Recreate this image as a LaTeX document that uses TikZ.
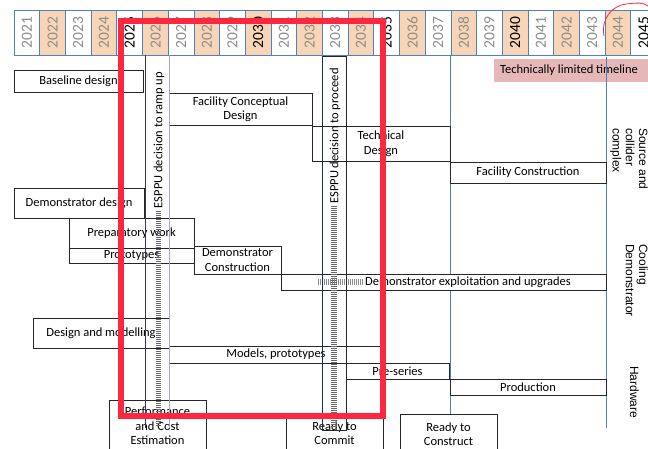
\documentclass[tikz,border=0pt]{standalone}
\usepackage{fontspec}
\setmainfont{Carlito}
\newfontfamily\helv{Liberation Sans}
\definecolor{cellblue}{RGB}{79,129,189}
\definecolor{yorange}{RGB}{249,213,184}
\definecolor{yeargray}{RGB}{140,140,140}
\definecolor{pinkc}{RGB}{229,184,183}
\definecolor{redbox}{RGB}{252,40,64}
\definecolor{darkpurple}{RGB}{64,49,82}
\definecolor{lavender}{RGB}{179,162,199}
\definecolor{navyline}{RGB}{31,45,77}
\begin{document}
\begin{tikzpicture}[x=1pt,y=-1pt,
  yearcell/.style={draw=cellblue, line width=0.8pt, rotate=90, minimum width=45pt, minimum height=25.7pt, inner sep=0pt, font=\fontsize{15.5}{15.5}\selectfont},
  tbox/.style={draw=black!85, fill=white, line width=0.8pt, align=center, inner sep=0pt, font=\fontsize{12.5}{14.5}\selectfont},
  plain/.style={inner sep=0pt, align=center, font=\fontsize{12.5}{14.5}\selectfont},
  sidelab/.style={inner sep=0pt, rotate=-90, align=left, anchor=north west, font=\helv\fontsize{12}{13.3}\selectfont},
  bluev/.style={draw=cellblue, line width=0.9pt},
  ladder/.style={line width=5.5pt, black!60, dash pattern=on 1.1pt off 0.9pt},
  ladderh/.style={line width=6pt, black!45, dash pattern=on 1.1pt off 0.9pt}
]
\clip (0,0) rectangle (648,449);
\fill[white] (0,0) rectangle (648,449);

% year cells
\foreach \i in {0,...,24}{
  \pgfmathtruncatemacro{\yr}{2021+\i}
  \pgfmathsetmacro{\xc}{14+25.7*\i+12.85}
  \pgfmathtruncatemacro{\m}{mod(\yr,5)}
  \ifodd\yr \def\cf{white}\else\def\cf{yorange}\fi
  \ifnum\m=0 \def\tc{black}\else\def\tc{yeargray}\fi
  \node[yearcell, fill=\cf, text=\tc] (y\yr) at (\xc,32.5) {\yr};
}

% technically limited timeline
\node[fill=pinkc, minimum width=154pt, minimum height=23pt, inner sep=0pt, anchor=north west] (tltbox) at (494,58.5) {};
\node[plain] (tlt) at (569,70) {Technically limited timeline};

% blue vertical lines
\coordinate (va1) at (450.5,55);
\coordinate (vb1) at (450.5,425);
\coordinate (va2) at (606,57);
\coordinate (vb2) at (606,428);
\draw[bluev] (va1) -- (vb1);
\draw[bluev] (va2) -- (vb2);

% boxes
\node[tbox, minimum width=129pt, minimum height=22pt] (baseline) at (78.5,81) {Baseline design};
\node[tbox, minimum width=143pt, minimum height=32pt] (fcd) at (240.5,109) {Facility Conceptual\\Design};
\node[tbox, minimum width=138pt, minimum height=35pt] (techd) at (381,143.5) {Technical\\Design};
\node[tbox, minimum width=156pt, minimum height=21pt] (fconst) at (528,172.5) {Facility Construction};
\node[tbox, minimum width=130pt, minimum height=30pt] (demod) at (79,203) {Demonstrator design};
\node[tbox, minimum width=125pt, minimum height=30pt] (prep) at (131.5,233) {Preparatory work};
\node[tbox, minimum width=125pt, minimum height=15pt] (proto) at (131.5,255.5) {Prototypes};
\node[tbox, minimum width=87pt, minimum height=28pt] (democ) at (237.5,260) {Demonstrator\\Construction};
\node[tbox, minimum width=325pt, minimum height=16pt] (exploit) at (443.5,282) {};
\draw[ladderh] (318,282) -- (364,282);
\node[plain] (exploitt) at (468,282) {Demonstrator exploitation and upgrades};
\node[tbox, minimum width=136pt, minimum height=30pt] (dm) at (101,333) {Design and modelling};
\node[tbox, minimum width=214pt, minimum height=17pt] (models) at (276,354.5) {Models, prototypes};
\node[tbox, minimum width=103pt, minimum height=16pt] (preser) at (397.5,371) {Pre-series};
\node[tbox, minimum width=156pt, minimum height=16pt] (prod) at (528,387) {Production};
\node[tbox, minimum width=97pt, minimum height=52pt] (pce) at (157.5,426) {Performance\\and Cost\\Estimation};
\node[tbox, minimum width=97pt, minimum height=40pt] (rtc) at (334.5,433) {Ready to\\Commit};
\node[tbox, minimum width=97pt, minimum height=40pt] (rtcon) at (448.5,434) {Ready to\\Construct};

% ESPPU bars
\coordinate (b1lt) at (145,55);
\coordinate (b1lb) at (145,428);
\coordinate (b1rt) at (169,55);
\coordinate (b1rb) at (169,428);
\draw[darkpurple, line width=1pt] (b1lt) -- (b1lb);
\draw[lavender, line width=1pt] (b1rt) -- (b1rb);
\draw[ladder] (158.5,211) -- (158.5,426);
\node[plain, rotate=90] (esppu1) at (159,140) {ESPPU decision to ramp up};

\draw[black!85, line width=0.9pt] (322,56) rectangle (346,430);
\draw[navyline, line width=1pt] (322,56) -- (322,430);
\draw[ladder] (334,206) -- (334,428);
\node[plain, rotate=90] (esppu2) at (335,136) {ESPPU decision to proceed};

% side labels
\node[sidelab] (lab1) at (648,128) {Source and\\collider\\complex};
\node[sidelab] (lab2) at (648,244) {Cooling\\Demonstrator};
\node[sidelab] (lab3) at (639,366) {Hardware};

% red highlight
\draw[redbox, line width=6pt] (120.5,21.5) rectangle (382.5,416);
\draw[redbox, line width=0.8pt] (604,36) .. controls (601,18) and (612,6) .. (626,4) .. controls (636,3) and (643,2) .. (648,6);
\end{tikzpicture}
\end{document}
